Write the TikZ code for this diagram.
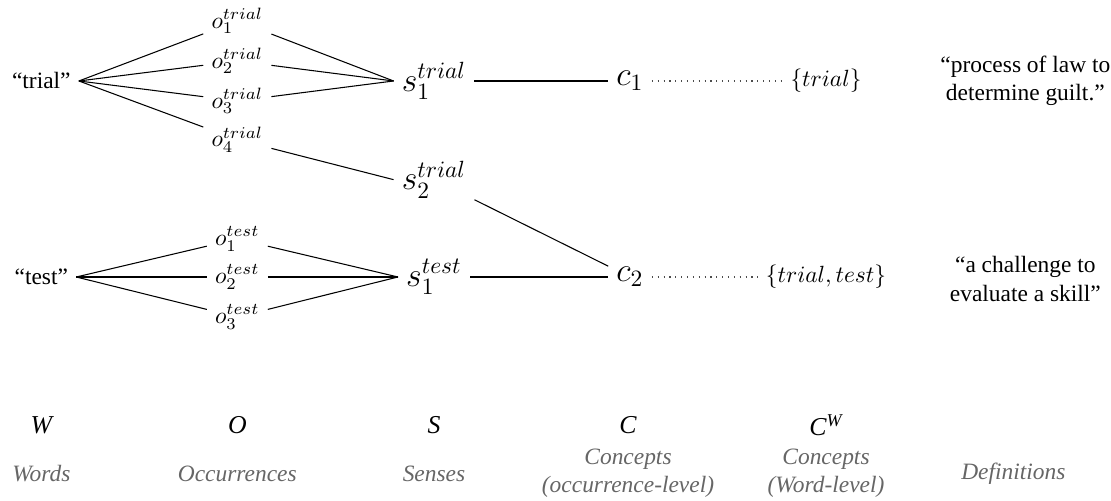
\documentclass[tikz,border=0pt]{standalone}
\usepackage{fontspec}
\setmainfont{Liberation Serif}
\usetikzlibrary{positioning}

\begin{document}
\begin{tikzpicture}[
  big/.style={font=\Large},
  sym/.style={font=\fontsize{11}{13}\selectfont\itshape},
  lbl/.style={text=black!60, font=\itshape, align=center},
  defn/.style={align=center},
  edge/.style={draw=black, line width=0.45pt},
  link/.style={draw=black!70, line width=0.5pt, dotted}
]
\useasboundingbox (0,0) rectangle (16.665,7.515);

% words
\node (wtrial) at (0.62, 6.30) {``trial''};
\node (wtest)  at (0.62, 3.36) {``test''};

% occurrences
\node (ot1) at (3.56, 7.20) {$o_1^{trial}$};
\node (ot2) at (3.56, 6.60) {$o_2^{trial}$};
\node (ot3) at (3.56, 6.00) {$o_3^{trial}$};
\node (ot4) at (3.56, 5.42) {$o_4^{trial}$};
\node (oe1) at (3.56, 3.93) {$o_1^{test}$};
\node (oe2) at (3.56, 3.36) {$o_2^{test}$};
\node (oe3) at (3.56, 2.76) {$o_3^{test}$};

% senses and concepts
\node[big] (st1) at (6.51, 6.30) {$s_1^{trial}$};
\node[big] (st2) at (6.51, 4.82) {$s_2^{trial}$};
\node[big] (se1) at (6.51, 3.36) {$s_1^{test}$};
\node[big] (c1)  at (9.45, 6.30) {$c_1$};
\node[big] (c2)  at (9.45, 3.36) {$c_2$};
\node (cw1) at (12.39, 6.30) {$\{trial\}$};
\node (cw2) at (12.39, 3.36) {$\{trial, test\}$};

% definitions
\node[defn] (d1) at (15.38, 6.30) {``process of law to\\determine guilt.''};
\node[defn] (d2) at (15.38, 3.33) {``a challenge to\\evaluate a skill''};

\draw[edge] (wtrial.east) -- (ot1);
\draw[edge] (wtrial.east) -- (ot2);
\draw[edge] (wtrial.east) -- (ot3);
\draw[edge] (wtrial.east) -- (ot4);
\draw[edge] (ot1) -- (st1.west);
\draw[edge] (ot2) -- (st1.west);
\draw[edge] (ot3) -- (st1.west);
\draw[edge] (ot4) -- (st2.west);
\draw[edge] (wtest.east) -- (oe1);
\draw[edge] (wtest.east) -- (oe2);
\draw[edge] (wtest.east) -- (oe3);
\draw[edge] (oe1) -- (se1.west);
\draw[edge] (oe2) -- (se1.west);
\draw[edge] (oe3) -- (se1.west);
\draw[edge] (st1) -- (c1);
\draw[edge] (st2) -- (c2);
\draw[edge] (se1) -- (c2);
\draw[link] (c1) -- (cw1);
\draw[link] (c2) -- (cw2);

% column legend
\node[sym] (sw) at (0.62, 1.14)  {W};
\node[sym] (so) at (3.56, 1.14)  {O};
\node[sym] (ss) at (6.51, 1.14)  {S};
\node[sym] (sc) at (9.42, 1.14)  {C};
\node[sym] (scw) at (12.39, 1.14) {C\textsuperscript{W}};
\node[lbl] (lw) at (0.62, 0.41)  {Words};
\node[lbl] (lo) at (3.56, 0.41)  {Occurrences};
\node[lbl] (ls) at (6.51, 0.41)  {Senses};
\node[lbl] (lc) at (9.42, 0.41)  {Concepts\\(occurrence-level)};
\node[lbl] (lcw) at (12.39, 0.41) {Concepts\\(Word-level)};
\node[lbl] (ld) at (15.2, 0.41)  {Definitions};
\end{tikzpicture}
\end{document}
